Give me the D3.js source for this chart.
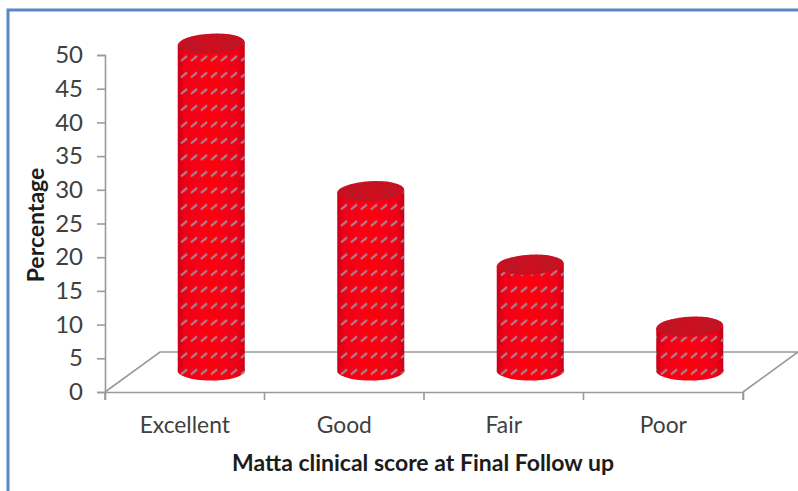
<!DOCTYPE html>
<html>
<head>
<meta charset="utf-8">
<script src="https://cdn.jsdelivr.net/npm/d3@7"></script>
<style>
  html, body { margin: 0; padding: 0; background: #fff; }
  svg { display: block; }
  text { font-family: Lato, "Open Sans", sans-serif; fill: #404040; }
</style>
</head>
<body>
<div id="chart"></div>
<script>
const categories = ["Excellent", "Good", "Fair", "Poor"];
const values = [48.5, 26.6, 15.7, 6.5];
const yTicks = [0, 5, 10, 15, 20, 25, 30, 35, 40, 45, 50];
const xTitle = "Matta clinical score at Final Follow up";
const yTitle = "Percentage";

const width = 798, height = 491;
const x0 = 105, x1 = 743, y0 = 392, y50 = 55;
const depthX = 55, depthY = 40;   // floor skew
const rx = 33.5, ry = 10;         // cylinder ellipse
const lift = 20;                  // cylinder base sits mid depth
const shift = 26.5;               // and is pushed right by the depth

const svg = d3.select("#chart").append("svg")
  .attr("width", width)
  .attr("height", height);

const x = d3.scaleBand().domain(categories).range([x0, x1]);
const y = d3.scaleLinear().domain([0, 50]).range([y0, y50]);

const defs = svg.append("defs");

const grad = defs.append("linearGradient").attr("id", "side");
grad.append("stop").attr("offset", "0%").attr("stop-color", "#c8001a");
grad.append("stop").attr("offset", "10%").attr("stop-color", "#f00416");
grad.append("stop").attr("offset", "50%").attr("stop-color", "#ff0410");
grad.append("stop").attr("offset", "90%").attr("stop-color", "#ee0416");
grad.append("stop").attr("offset", "100%").attr("stop-color", "#c4001a");

const hatch = defs.append("pattern").attr("id", "hatch")
  .attr("patternUnits", "userSpaceOnUse")
  .attr("patternTransform", "translate(0,1.5)")
  .attr("width", 10).attr("height", 16.5);
hatch.append("line")
  .attr("x1", 1).attr("y1", 10)
  .attr("x2", 7).attr("y2", 5)
  .attr("stroke", "#a08a9c").attr("stroke-width", 2);

const capHatch = defs.append("pattern").attr("id", "capHatch")
  .attr("patternUnits", "userSpaceOnUse")
  .attr("width", 6).attr("height", 6);
capHatch.append("line")
  .attr("x1", 0).attr("y1", 6).attr("x2", 6).attr("y2", 0)
  .attr("stroke", "#9c2a3c").attr("stroke-width", 1);

defs.append("filter").attr("id", "soft")
  .append("feGaussianBlur").attr("stdDeviation", 0.7);

// frame
svg.append("rect")
  .attr("x", 8).attr("y", 10)
  .attr("width", 830).attr("height", 520)
  .attr("fill", "#fff")
  .attr("stroke", "#5b86c4").attr("stroke-width", 3);

// floor
const floor = svg.append("g").attr("fill", "none").attr("stroke", "#9a9a9a").attr("stroke-width", 1.6);
floor.append("path").attr("d", d3.line()([
  [x0, y0], [x0 + depthX, y0 - depthY], [x1 + depthX, y0 - depthY], [x1, y0]
]));

// axes
const yAxis = d3.axisLeft(y).tickValues(yTicks).tickSize(8).tickPadding(14);
const xAxis = d3.axisBottom(x).tickSize(8).tickPadding(16.5);

const gy = svg.append("g").attr("transform", `translate(${x0},0)`).call(yAxis);
const gx = svg.append("g").attr("transform", `translate(0,${y0})`).call(xAxis);

// band axis ticks go on the category boundaries
gx.selectAll(".tick line").remove();
gx.selectAll(".tick-edge").data(d3.range(categories.length + 1)).enter().append("line")
  .attr("x1", i => x0 + i * x.step()).attr("x2", i => x0 + i * x.step())
  .attr("y1", 0).attr("y2", 8);

[gy, gx].forEach(g => {
  g.selectAll("path, line").attr("stroke", "#9a9a9a").attr("stroke-width", 1.6);
});
gy.selectAll("text").attr("font-size", null).style("font-size", "24px");
gx.selectAll("text").attr("font-size", null).style("font-size", "22.8px");

// cylinders
const bars = svg.append("g").selectAll("g").data(values).enter().append("g")
  .attr("filter", "url(#soft)");

const cx = (d, i) => x(categories[i]) + x.bandwidth() / 2 + shift;
const topY = d => y(d) - lift;
const baseY = y0 - lift;

const bodyPath = (d, i) => {
  const c = cx(d, i), t = topY(d);
  return `M${c - rx},${t}L${c - rx},${baseY}A${rx},${ry} 0 0 0 ${c + rx},${baseY - 3}L${c + rx},${t - 3}Z`;
};

bars.append("path").attr("d", bodyPath).attr("fill", "url(#side)");
bars.append("path").attr("d", bodyPath).attr("fill", "url(#hatch)");

const capEllipse = sel => sel
  .attr("cx", cx).attr("cy", d => topY(d) - 1.5)
  .attr("rx", rx).attr("ry", ry)
  .attr("transform", (d, i) => `rotate(-3 ${cx(d, i)} ${topY(d)})`);

bars.append("ellipse").call(capEllipse).attr("fill", "#d00a1c");
bars.append("ellipse").call(capEllipse).attr("fill", "url(#capHatch)");

// titles
svg.append("text")
  .attr("x", 423).attr("y", 471)
  .attr("text-anchor", "middle")
  .style("font-size", "23px").style("font-weight", "bold").style("fill", "#1c1c1c")
  .text(xTitle);

svg.append("text")
  .attr("transform", "translate(44,225) rotate(-90)")
  .attr("text-anchor", "middle")
  .style("font-size", "23px").style("font-weight", "bold").style("fill", "#1c1c1c")
  .text(yTitle);
</script>
</body>
</html>
